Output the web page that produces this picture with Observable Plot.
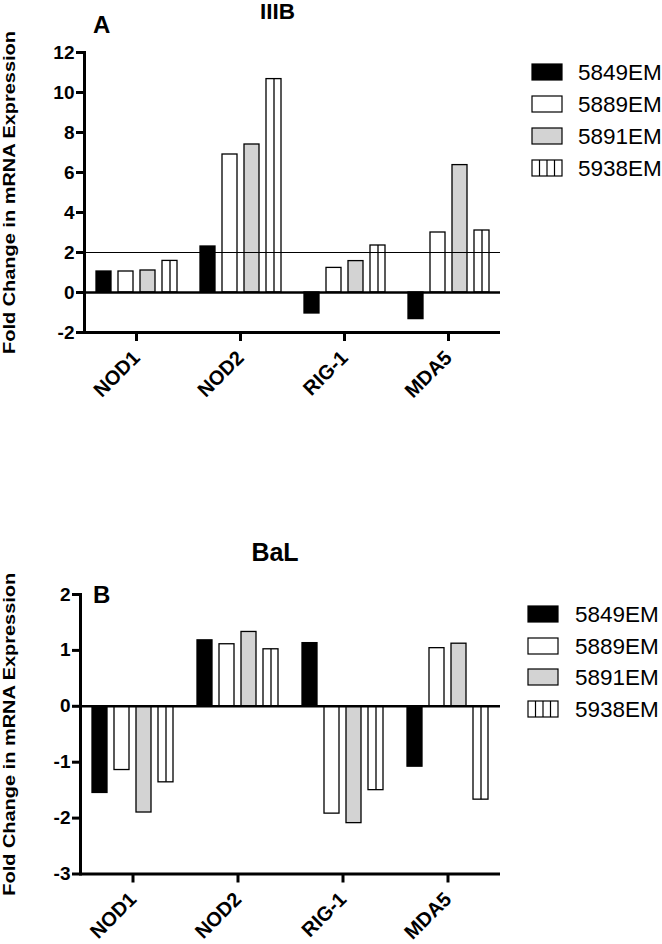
<!DOCTYPE html>
<html>
<head>
<meta charset="utf-8">
<script src="https://cdn.jsdelivr.net/npm/d3@7"></script>
<script src="https://cdn.jsdelivr.net/npm/@observablehq/plot@0.6"></script>
<style>
  html, body { margin: 0; padding: 0; background: #fff; }
  #wrap { position: relative; width: 662px; height: 944px; overflow: hidden; font-family: "Liberation Sans", Arial, sans-serif; }
</style>
</head>
<body>
<div id="wrap"></div>
<script>
const genes = ["NOD1", "NOD2", "RIG-1", "MDA5"];
const samples = ["5849EM", "5889EM", "5891EM", "5938EM"];
const sampleFills = ["#000000", "#ffffff", "#d3d3d3", "#ffffff"];

// IIIB panel (A)
const iiib5849 = [1.05, 2.3, -1.05, -1.33];
const iiib5889 = [1.05, 6.9, 1.23, 3.0];
const iiib5891 = [1.1, 7.4, 1.57, 6.37];
const iiib5938 = [1.58, 10.67, 2.35, 3.1];
const iiibTicks = [-2, 0, 2, 4, 6, 8, 10, 12];
const iiibThreshold = [2];

// BaL panel (B)
const bal5849 = [-1.55, 1.18, 1.13, -1.08];
const bal5889 = [-1.14, 1.11, -1.92, 1.04];
const bal5891 = [-1.9, 1.33, -2.09, 1.12];
const bal5938 = [-1.36, 1.02, -1.5, -1.67];
const balTicks = [-3, -2, -1, 0, 1, 2];

const yLabel = "Fold Change in mRNA Expression";

function toRows(series) {
  const rows = [];
  samples.forEach((s, i) => genes.forEach((g, j) => rows.push({gene: g, sample: s, value: series[i][j]})));
  return rows;
}

const FONT = "Liberation Sans, Arial, sans-serif";

function panel({rows, ticks, domain, threshold, height, marginTop, marginBottom, marginLeft, labelOffset}) {
  const marks = [
    Plot.barY(rows, {fx: "gene", x: "sample", y: "value", fill: "sample", stroke: "black", strokeWidth: 1.3}),
    Plot.ruleX(rows.filter(d => d.sample === "5938EM"), {fx: "gene", x: "sample", y1: 0, y2: "value", stroke: "black", strokeWidth: 1.3})
  ];
  if (threshold) marks.push(Plot.ruleY(threshold, {stroke: "black", strokeWidth: 1}));
  marks.push(
    Plot.ruleY([0], {stroke: "black", strokeWidth: 2.6}),
    Plot.ruleY([domain[0]], {stroke: "black", strokeWidth: 3}),
    Plot.frame({anchor: "left", facetAnchor: "left", stroke: "black", strokeWidth: 3}),
    Plot.axisY({ticks, tickSize: 8, tickPadding: 2, strokeWidth: 3, tickFormat: d => String(d), fontSize: 19,
      label: yLabel, labelAnchor: "center", labelArrow: "none", labelOffset}),
    Plot.axisFx({anchor: "bottom", tickSize: 9, tickPadding: 13, strokeWidth: 3, tickRotate: -45, fontSize: 20, label: null})
  );
  const chart = Plot.plot({
    width: 662,
    height,
    marginTop, marginBottom, marginLeft, marginRight: 162,
    style: {fontFamily: FONT, fontWeight: "bold", fontSize: "18px", background: "transparent", overflow: "visible"},
    fx: {domain: genes, padding: 0, axis: null},
    x: {domain: samples, paddingInner: 0.33, paddingOuter: 0.48, axis: null},
    y: {domain, axis: null},
    color: {domain: samples, range: sampleFills},
    marks
  });
  d3.select(chart).selectAll("g[aria-label='y-axis label'] text, g[aria-label='y-axis label']")
    .filter(function() { return this.tagName === "text"; })
    .attr("font-size", 17).attr("textLength", 323).attr("lengthAdjust", "spacingAndGlyphs");
  return chart;
}

const wrap = document.getElementById("wrap");

const chartA = panel({rows: toRows([iiib5849, iiib5889, iiib5891, iiib5938]), ticks: iiibTicks, domain: [-2, 12],
  threshold: iiibThreshold, height: 420, marginTop: 52, marginBottom: 88, marginLeft: 84, labelOffset: 82});
chartA.style.position = "absolute"; chartA.style.top = "0px"; chartA.style.left = "0px";
wrap.appendChild(chartA);

const chartB = panel({rows: toRows([bal5849, bal5889, bal5891, bal5938]), ticks: balTicks, domain: [-3, 2],
  threshold: null, height: 424, marginTop: 74, marginBottom: 70.5, marginLeft: 80, labelOffset: 78});
chartB.style.position = "absolute"; chartB.style.top = "520px"; chartB.style.left = "0px";
wrap.appendChild(chartB);

const ov = d3.select(wrap).append("svg")
  .attr("width", 662).attr("height", 944)
  .style("position", "absolute").style("top", "0px").style("left", "0px")
  .style("pointer-events", "none")
  .attr("font-family", FONT);

ov.append("text").attr("x", 277.5).attr("y", 19).attr("text-anchor", "middle")
  .attr("font-weight", "bold").attr("font-size", 22.5).text("IIIB");
ov.append("text").attr("x", 93).attr("y", 33).attr("font-weight", "bold").attr("font-size", 24).text("A");
ov.append("text").attr("x", 275).attr("y", 561).attr("text-anchor", "middle")
  .attr("font-weight", "bold").attr("font-size", 25).text("BaL");
ov.append("text").attr("x", 93).attr("y", 603).attr("font-weight", "bold").attr("font-size", 24).text("B");

function legend(x0, yCenters, tx) {
  samples.forEach((s, i) => {
    const g = ov.append("g");
    const y = yCenters[i];
    g.append("rect").attr("x", x0).attr("y", y - 8).attr("width", 30).attr("height", 16)
      .attr("fill", sampleFills[i]).attr("stroke", "black").attr("stroke-width", 1.2);
    if (s === "5938EM") {
      [7.5, 15, 22.5].forEach(dx => g.append("line").attr("x1", x0 + dx).attr("x2", x0 + dx)
        .attr("y1", y - 8).attr("y2", y + 8).attr("stroke", "black").attr("stroke-width", 1.2));
    }
    g.append("text").attr("x", tx).attr("y", y).attr("dy", "0.36em").attr("font-size", 22.5).text(s);
  });
}
legend(532, [72, 104, 136, 168], 578);
legend(528, [614, 646, 677, 709], 575);
</script>
</body>
</html>
